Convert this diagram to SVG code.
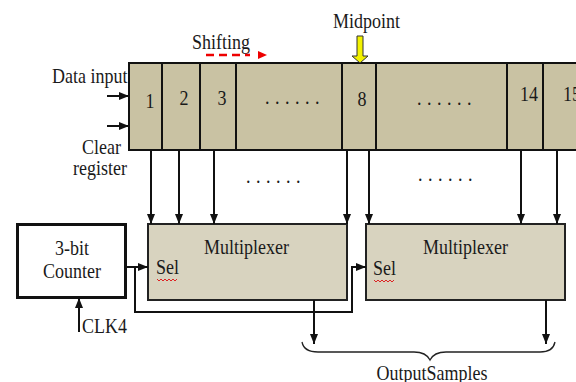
<svg xmlns="http://www.w3.org/2000/svg" width="576" height="382" viewBox="0 0 576 382">
<style>
text{font-family:"Liberation Serif","Times New Roman",serif;font-size:18px;fill:#1a1a1a}
.mid{text-anchor:middle}
.ln{stroke:#111;stroke-width:2;fill:none}
.reg{fill:#c9c2a3;stroke:#111;stroke-width:2}
.mux{fill:#d8d3bf;stroke:#222;stroke-width:2}
.dots{letter-spacing:5.5px}
.wavy{stroke:#d22;stroke-width:1;fill:none}
</style>
<defs>
<marker id="ah" markerWidth="10" markerHeight="8" refX="10" refY="4" orient="auto" markerUnits="userSpaceOnUse">
<path d="M0,0 L10,4 L0,8 Z" fill="#111"/>
</marker>
</defs>
<rect width="576" height="382" fill="#fff"/>

<g id="register">
<rect class="reg" x="129" y="63" width="460" height="87"/>
<path class="ln" d="M162,63V150M200,63V150M236,63V150M342,63V150M376,63V150M507,63V150M543,63V150"/>
<text class="mid" transform="matrix(1,0,0,1.15,150,108)" x="0" y="0">1</text>
<text class="mid" transform="matrix(1,0,0,1.15,184,105)">2</text>
<text class="mid" transform="matrix(1,0,0,1.15,222,105)">3</text>
<text class="dots" transform="matrix(1,0,0,1.15,265,104)">......</text>
<text class="mid" transform="matrix(1,0,0,1.15,362,106)">8</text>
<text class="dots" transform="matrix(1,0,0,1.15,417,105)">......</text>
<text class="mid" transform="matrix(1,0,0,1.15,529,101)">14</text>
<text transform="matrix(1,0,0,1.15,563,101)">15</text>
</g>

<g id="labels-input">
<text transform="matrix(1,0,0,1.15,52,83)">Data input</text>
<text transform="matrix(1,0,0,1.15,82,154)">Clear</text>
<text transform="matrix(1,0,0,1.15,73,175)">register</text>
<text transform="matrix(1,0,0,1.15,192,49)">Shifting</text>
<path d="M206,55H250" stroke="#e00" stroke-width="2.5" stroke-dasharray="8,5" fill="none"/>
<path d="M258,51L267,55L258,59Z" fill="#e00"/>
</g>

<g id="midpoint">
<text transform="matrix(1,0,0,1.15,333,28)">Midpoint</text>
<path d="M357,36H363V56H368L360,63L352,56H357Z" fill="#f2f200" stroke="#333" stroke-width="1"/>
</g>

<g id="dots-row">
<text class="dots" transform="matrix(1,0,0,1.15,246,183)">......</text>
<text class="dots" transform="matrix(1,0,0,1.15,418,181)">......</text>
</g>

<g id="counter">
<rect x="17.5" y="224.5" width="108" height="73" fill="#fff" stroke="#111" stroke-width="3"/>
<text class="mid" transform="matrix(1,0,0,1.15,72,255)">3-bit</text>
<text class="mid" transform="matrix(1,0,0,1.15,72,278)">Counter</text>
<text transform="matrix(1,0,0,1.15,82,333)">CLK4</text>
</g>

<g id="mux1">
<rect class="mux" x="148" y="224" width="199" height="76"/>
<text transform="matrix(1,0,0,1.15,204,254)">Multiplexer</text>
<text transform="matrix(1,0,0,1.15,156,274)">Sel</text>
<path class="wavy" d="M157,279l2,2l2,-2l2,2l2,-2l2,2l2,-2l2,2l2,-2l2,2l2,-2"/>
</g>

<g id="mux2">
<rect class="mux" x="366" y="224" width="199" height="76"/>
<text transform="matrix(1,0,0,1.15,423,254)">Multiplexer</text>
<text transform="matrix(1,0,0,1.15,373,275)">Sel</text>
<path class="wavy" d="M374,280l2,2l2,-2l2,2l2,-2l2,2l2,-2l2,2l2,-2l2,2l2,-2"/>
</g>

<g id="connectors">
<path class="ln" marker-end="url(#ah)" d="M107,96H129"/>
<path class="ln" marker-end="url(#ah)" d="M107,126H129"/>
<path class="ln" marker-end="url(#ah)" d="M151,150V224"/>
<path class="ln" marker-end="url(#ah)" d="M179,150V224"/>
<path class="ln" marker-end="url(#ah)" d="M214,150V224"/>
<path class="ln" marker-end="url(#ah)" d="M347,150V224"/>
<path class="ln" marker-end="url(#ah)" d="M369,150V224"/>
<path class="ln" marker-end="url(#ah)" d="M521,150V224"/>
<path class="ln" marker-end="url(#ah)" d="M557,150V224"/>
<path class="ln" marker-end="url(#ah)" d="M126,267H148"/>
<path class="ln" marker-end="url(#ah)" d="M135,267V312H352V267H366"/>
<path class="ln" marker-end="url(#ah)" d="M79,332V298"/>
<path class="ln" marker-end="url(#ah)" d="M314,300V344"/>
<path class="ln" marker-end="url(#ah)" d="M546,300V344"/>
</g>

<g id="output">
<path d="M302,342Q304,352 318,352H414Q426,352 430,360Q434,352 446,352H540Q553,352 555,342" fill="none" stroke="#222" stroke-width="1.3"/>
<text class="mid" transform="matrix(1,0,0,1.15,432,380)">OutputSamples</text>
</g>
</svg>
